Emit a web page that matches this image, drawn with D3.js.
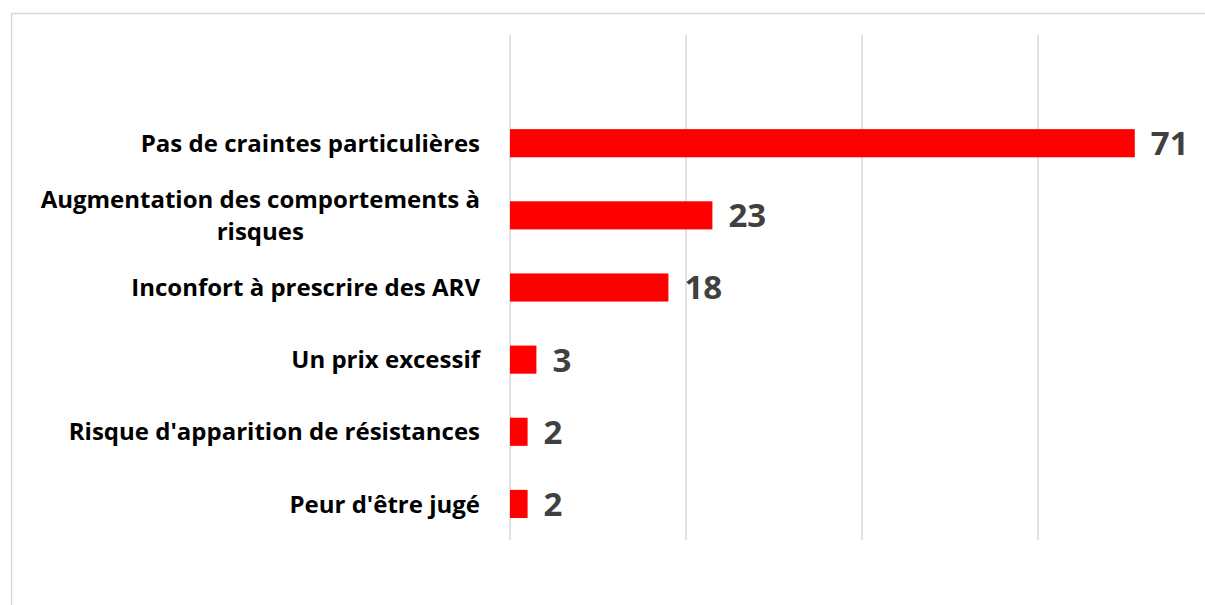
<!DOCTYPE html>
<html>
<head>
<meta charset="utf-8">
<script src="https://cdn.jsdelivr.net/npm/d3@7"></script>
<style>
  body { margin: 0; background: #fff; }
</style>
</head>
<body>
<div id="chart"></div>
<script>
// Categories (top to bottom) and their values
const categories = [
    "Pas de craintes particulières",
    "Augmentation des comportements à risques",
    "Inconfort à prescrire des ARV",
    "Un prix excessif",
    "Risque d'apparition de résistances",
    "Peur d'être jugé"
];
const values = [71, 23, 18, 3, 2, 2];
const xTicks = [0, 20, 40, 60, 80];

// Wrapped label lines for the long category
const labelLines = {
    "Augmentation des comportements à risques": ["Augmentation des comportements à", "risques"]
};

const width = 1205, height = 605;
const plot = { left: 510, right: 1214, top: 35, bottom: 540 };

const svg = d3.select("#chart")
    .append("svg")
    .attr("width", width)
    .attr("height", height);

// Chart frame (cropped on right and bottom)
svg.append("rect")
    .attr("x", 11.5)
    .attr("y", 13.5)
    .attr("width", 1250)
    .attr("height", 700)
    .attr("fill", "none")
    .attr("stroke", "#d9d9d9")
    .attr("stroke-width", 1.5);

const xScale = d3.scaleLinear()
    .domain([0, 80])
    .range([plot.left, plot.right]);

// First slot is empty in the original chart
const yScale = d3.scaleBand()
    .domain(["__blank__", ...categories])
    .range([plot.top, plot.bottom])
    .paddingInner(0.61)
    .paddingOuter(0.305);

// Gridlines
svg.append("g")
    .selectAll("line")
    .data(xTicks)
    .join("line")
    .attr("x1", d => xScale(d))
    .attr("x2", d => xScale(d))
    .attr("y1", plot.top)
    .attr("y2", plot.bottom)
    .attr("stroke", "#d9d9d9")
    .attr("stroke-width", 1.5);

// Bars
svg.append("g")
    .selectAll("rect")
    .data(categories)
    .join("rect")
    .attr("x", xScale(0))
    .attr("y", d => yScale(d))
    .attr("width", (d, i) => xScale(values[i]) - xScale(0))
    .attr("height", yScale.bandwidth())
    .attr("fill", "#ff0000");

// Value labels
svg.append("g")
    .selectAll("text")
    .data(categories)
    .join("text")
    .attr("x", (d, i) => xScale(values[i]) + 16)
    .attr("y", d => yScale(d) + yScale.bandwidth() / 2)
    .attr("dy", "0.36em")
    .style("font-family", "'Open Sans', sans-serif")
    .style("font-weight", "bold")
    .style("font-size", "33px")
    .style("fill", "#404040")
    .text((d, i) => values[i]);

// Category labels
const lineHeight = 32;
const labels = svg.append("g")
    .selectAll("text")
    .data(categories)
    .join("text")
    .style("font-family", "'Open Sans', sans-serif")
    .style("font-weight", "bold")
    .style("font-size", "24px")
    .style("fill", "#000");

labels.each(function(d) {
    const lines = labelLines[d] || [d];
    const el = d3.select(this);
    const cy = yScale(d) + yScale.bandwidth() / 2;
    if (lines.length === 1) {
        el.attr("text-anchor", "end")
            .attr("x", 480)
            .attr("y", cy)
            .attr("dy", "0.36em")
            .text(d);
    } else {
        // center the lines inside a right-aligned block
        el.attr("text-anchor", "middle");
        lines.forEach((t, k) => {
            el.append("tspan")
                .attr("y", cy + (k - (lines.length - 1) / 2) * lineHeight)
                .attr("dy", "0.36em")
                .text(t);
        });
        const w = d3.max(el.selectAll("tspan").nodes(), n => n.getComputedTextLength());
        el.selectAll("tspan").attr("x", 480 - w / 2);
    }
});
</script>
</body>
</html>
